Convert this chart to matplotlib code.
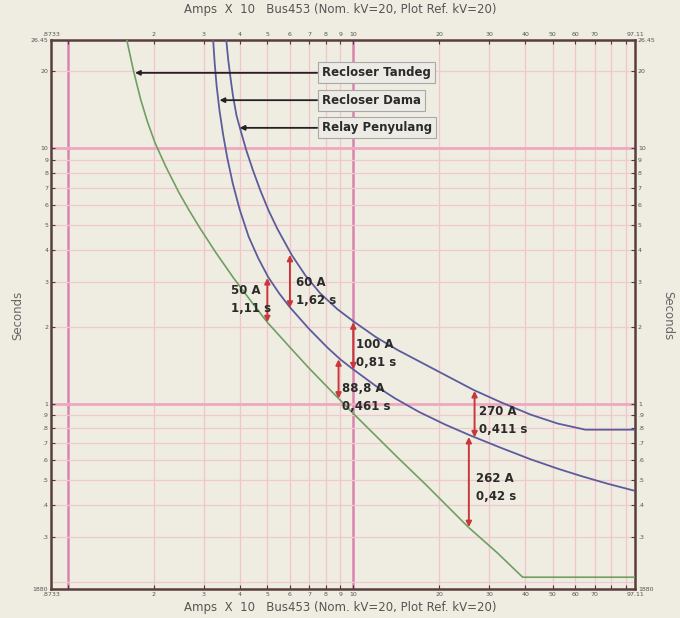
import matplotlib
matplotlib.use("Agg")
import matplotlib.pyplot as plt
import matplotlib.ticker as ticker

# ─── Datos (Amps x 10, segundos) ──────────────────────────────────────────────

tandeg_x = [1.61, 1.70, 1.80, 1.90, 2.02, 2.20, 2.45, 2.65, 2.90, 3.30, 3.80, 4.40,
            5.0, 6.0, 7.0, 8.5, 10.0, 14.3, 18.0, 25.3, 32.0, 39.2, 97.11]
tandeg_y = [26.45, 20.0, 15.5, 12.7, 10.5, 8.5, 6.7, 5.75, 4.87, 3.90, 3.11, 2.50,
            2.08, 1.66, 1.375, 1.10, 0.914, 0.615, 0.48, 0.328, 0.26, 0.209, 0.209]

dama_x = [3.23, 3.27, 3.32, 3.40, 3.50, 3.62, 3.78, 4.0, 4.3, 4.65, 5.04, 5.5, 6.0, 7.0,
          8.1, 9.0, 10.0, 12.0, 14.0, 17.0, 21.0, 25.7, 33.0, 41.8, 52.0, 62.9, 78.0, 97.11]
dama_y = [26.45, 21.5, 17.6, 14.0, 11.3, 9.15, 7.3, 5.75, 4.5, 3.70, 3.12, 2.70, 2.38, 1.96,
          1.66, 1.49, 1.36, 1.171, 1.048, 0.927, 0.827, 0.750, 0.670, 0.605, 0.556, 0.52,
          0.485, 0.455]

penyulang_x = [3.59, 3.65, 3.72, 3.79, 3.90, 4.05, 4.22, 4.45, 4.72, 5.05, 5.41, 6.1, 6.8,
               7.66, 8.8, 10.0, 12.0, 14.3, 20.0, 26.4, 33.0, 41.8, 52.0, 65.0, 97.11]
penyulang_y = [26.45, 22.0, 18.6, 16.0, 13.4, 11.5, 9.8, 8.2, 6.85, 5.7, 4.85, 3.8, 3.17,
               2.70, 2.34, 2.10, 1.82, 1.62, 1.33, 1.13, 1.01, 0.905, 0.835, 0.79, 0.79]

# flechas rojas de coordinación
flecha_x = [5.0, 6.0, 10.0, 8.88, 26.6, 25.4]
flecha_y_bajo = [2.08, 2.37, 1.36, 1.045, 0.737, 0.328]
flecha_y_alto = [3.10, 3.82, 2.08, 1.49, 1.12, 0.74]
flecha_texto = ["50 A\n1,11 s", "60 A\n1,62 s", "100 A\n0,81 s",
                "88,8 A\n0,461 s", "270 A\n0,411 s", "262 A\n0,42 s"]
texto_x = [3.73, 6.31, 10.2, 9.15, 27.5, 27.0]
texto_y = [2.55, 2.74, 1.57, 1.055, 0.858, 0.47]

# etiquetas de las curvas
nombres = ["Recloser Tandeg", "Recloser Dama", "Relay Penyulang"]
nombre_y = [19.7, 15.4, 12.0]
nombre_apunta_x = [1.72, 3.40, 4.00]

x_ticks = [0.8733, 2, 3, 4, 5, 6, 7, 8, 9, 10, 20, 30, 40, 50, 60, 70, 97.11]
x_tick_labels = [".8733", "2", "3", "4", "5", "6", "7", "8", "9", "10",
                 "20", "30", "40", "50", "60", "70", "97.11"]
y_ticks = [0.188, 0.3, 0.4, 0.5, 0.6, 0.7, 0.8, 0.9, 1, 2, 3, 4, 5, 6, 7, 8, 9, 10, 20, 26.45]
y_tick_labels = ["1880", ".3", ".4", ".5", ".6", ".7", ".8", ".9", "1", "2", "3", "4",
                 "5", "6", "7", "8", "9", "10", "20", "26.45"]
x_extra = [1, 80, 90]

# ─── Gráfica ──────────────────────────────────────────────────────────────────

fondo = "#efede1"
fig = plt.figure(figsize=(6.8, 6.18), dpi=100, facecolor=fondo)
ax = fig.add_axes([0.075, 0.047, 0.859, 0.888])
ax.set_facecolor(fondo)
ax.set_xscale("log")
ax.set_yscale("log")
ax.set_xlim(0.8733, 97.11)
ax.set_ylim(0.188, 26.45)

# rejilla rosa
for v in [2, 3, 4, 5, 6, 7, 8, 9, 20, 30, 40, 50, 60, 70, 80, 90]:
    ax.axvline(v, color="#f2c4cc", lw=0.9, zorder=1)
for v in [1, 10]:
    ax.axvline(v, color="#d884ae", lw=1.8, zorder=1)
for v in [0.2, 0.3, 0.4, 0.5, 0.6, 0.7, 0.8, 0.9, 2, 3, 4, 5, 6, 7, 8, 9, 20]:
    ax.axhline(v, color="#f2c8cf", lw=0.9, zorder=1)
for v in [1, 10]:
    ax.axhline(v, color="#f0a8c0", lw=2.0, zorder=1)

# curvas
ax.plot(tandeg_x, tandeg_y, color="#6f9f62", lw=1.2, zorder=3)
ax.plot(dama_x, dama_y, color="#5c5c9c", lw=1.3, zorder=3)
ax.plot(penyulang_x, penyulang_y, color="#5c5c9c", lw=1.3, zorder=3)

# flechas rojas y textos
for fx, yb, ya, tx, ty, t in zip(flecha_x, flecha_y_bajo, flecha_y_alto,
                                 texto_x, texto_y, flecha_texto):
    ax.annotate("", xy=(fx, ya), xytext=(fx, yb),
                arrowprops=dict(arrowstyle="<|-|>", color="#c8373a", lw=1.4,
                                mutation_scale=8, shrinkA=0, shrinkB=0), zorder=4)
    ax.text(tx, ty, t, fontsize=8.5, fontweight="bold", color="#2a2a2a",
            ha="left", va="center", linespacing=1.55, zorder=5)

# cajas de nombres con flecha negra
for n, ny, nx in zip(nombres, nombre_y, nombre_apunta_x):
    ax.annotate(n, xy=(nx, ny), xytext=(7.75, ny), fontsize=8.5, fontweight="bold",
                color="#2a2a2a", ha="left", va="center",
                bbox=dict(boxstyle="square,pad=0.35", fc="#ecebe5", ec="#a8a8a8", lw=0.8),
                arrowprops=dict(arrowstyle="-|>", color="#222222", lw=1.3,
                                mutation_scale=7, shrinkA=0, shrinkB=0), zorder=6)

# ejes y marcas
ax.xaxis.set_major_locator(ticker.FixedLocator(x_ticks))
ax.xaxis.set_major_formatter(ticker.FixedFormatter(x_tick_labels))
ax.xaxis.set_minor_locator(ticker.FixedLocator(x_extra))
ax.xaxis.set_minor_formatter(ticker.NullFormatter())
ax.yaxis.set_major_locator(ticker.FixedLocator(y_ticks))
ax.yaxis.set_major_formatter(ticker.FixedFormatter(y_tick_labels))
ax.yaxis.set_minor_locator(ticker.NullLocator())
ax.tick_params(which="both", direction="in", length=3, width=0.8, color="#4a3a3a",
               top=True, right=True, labeltop=True, labelright=True,
               labelsize=4.5, labelcolor="#555555", pad=2)

for s in ax.spines.values():
    s.set_color("#5a3e3e")
    s.set_linewidth(1.8)

titulo = "Amps  X  10   Bus453 (Nom. kV=20, Plot Ref. kV=20)"
fig.text(0.5, 0.984, titulo, ha="center", va="center", fontsize=8.5, color="#555555")
fig.text(0.5, 0.017, titulo, ha="center", va="center", fontsize=8.5, color="#555555")
fig.text(0.026, 0.49, "Seconds", rotation=90, ha="center", va="center", fontsize=8.5, color="#666666")
fig.text(0.982, 0.49, "Seconds", rotation=270, ha="center", va="center", fontsize=8.5, color="#666666")

plt.savefig("out.png", dpi=100, facecolor=fondo)
